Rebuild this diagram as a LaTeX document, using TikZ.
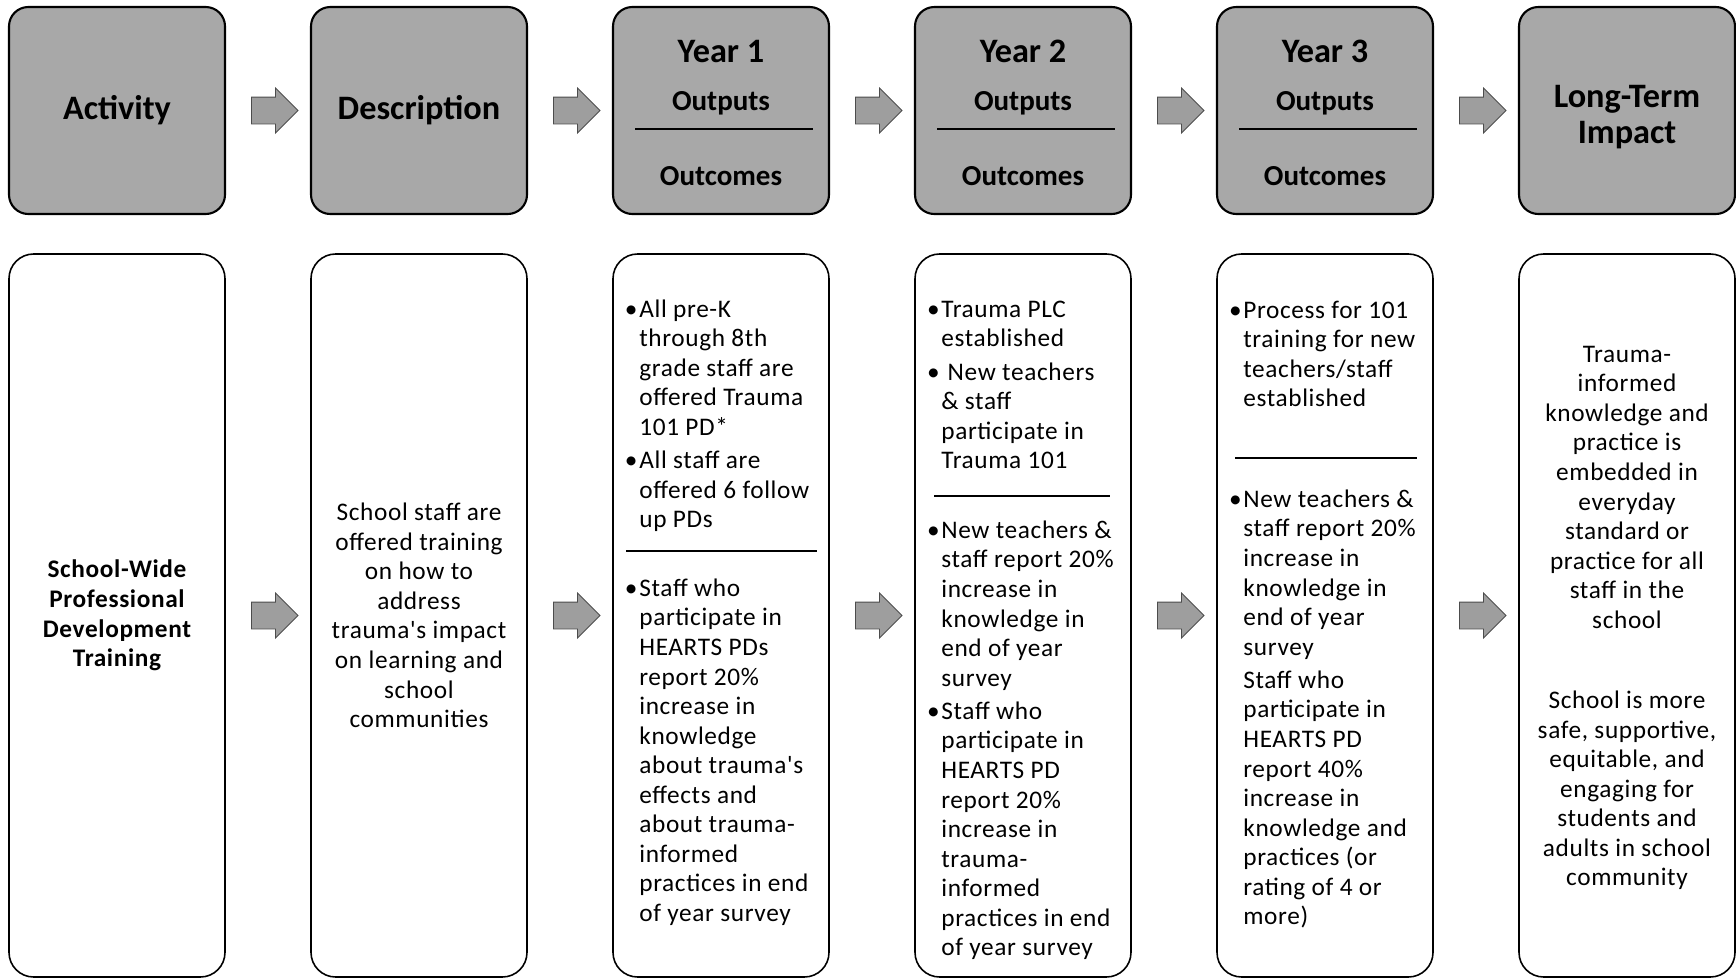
\documentclass[tikz,border=0pt]{standalone}
\usepackage{fontspec}
\setmainfont{Carlito}
\newfontfamily\bodyfont[LetterSpace=2.5]{Carlito}
\usepackage{xcolor}
\usetikzlibrary{shapes.arrows, positioning, calc}
\definecolor{headgray}{rgb}{0.66, 0.66, 0.66}
\definecolor{flowgray}{rgb}{0.62, 0.62, 0.62}
\tikzstyle{headbox} = [rectangle, rounded corners=11pt, draw=black, line width=1.2pt, fill=headgray, minimum width=4.32cm, minimum height=4.14cm, inner sep=0pt, outer sep=0pt]
\tikzstyle{bodybox} = [rectangle, rounded corners=14pt, draw=black, line width=0.9pt, fill=white, minimum width=4.32cm, minimum height=14.46cm, inner sep=0pt, outer sep=0pt]
\tikzstyle{headtext} = [font=\fontsize{19.5}{20.5}\selectfont\bfseries, align=center, inner sep=0pt]
\tikzstyle{subtext} = [font=\fontsize{16.5}{19}\selectfont\bfseries, inner sep=0pt]
\tikzstyle{bodytext} = [font=\bodyfont\fontsize{14.4}{16.8}\selectfont, align=left, anchor=north west, inner sep=0pt]
\tikzstyle{centertext} = [font=\bodyfont\fontsize{14.4}{16.8}\selectfont, align=center, inner sep=0pt]
\tikzstyle{flow} = [single arrow, draw=black!70, fill=flowgray, line width=0.5pt, minimum width=0.88cm, minimum height=0.93cm, single arrow head extend=0.18cm, inner sep=0pt, inner ysep=0.26cm]
\tikzstyle{divider} = [line width=0.8pt]

\begin{document}
\begin{tikzpicture}
\useasboundingbox (0,0) rectangle (34.72,-19.6);

% top row
\node[headbox, headtext] (acthead) at (2.34,-2.21) {Activity};
\node[headbox, headtext, right=1.72cm of acthead] (deschead) {Description};
\node[headbox, right=1.72cm of deschead] (y1head) {};
\node[headbox, right=1.72cm of y1head] (y2head) {};
\node[headbox, right=1.72cm of y2head] (y3head) {};
\node[headbox, right=1.72cm of y3head] (lthead) {};
\node[headtext] (lttitle) at ([yshift=-0.13cm]lthead.center) {Long-Term\\Impact};

\node[headtext] (y1title) at ([yshift=-0.88cm]y1head.north) {Year 1};
\node[subtext] (y1outputs) at ([yshift=-1.92cm]y1head.north) {Outputs};
\node[subtext] (y1outcomes) at ([yshift=-3.38cm]y1head.north) {Outcomes};
\draw[divider] ($(y1head.north west)+(0.44,-2.44)$) -- ($(y1head.north west)+(4.0,-2.44)$);

\node[headtext] (y2title) at ([yshift=-0.88cm]y2head.north) {Year 2};
\node[subtext] (y2outputs) at ([yshift=-1.92cm]y2head.north) {Outputs};
\node[subtext] (y2outcomes) at ([yshift=-3.38cm]y2head.north) {Outcomes};
\draw[divider] ($(y2head.north west)+(0.44,-2.44)$) -- ($(y2head.north west)+(4.0,-2.44)$);

\node[headtext] (y3title) at ([yshift=-0.88cm]y3head.north) {Year 3};
\node[subtext] (y3outputs) at ([yshift=-1.92cm]y3head.north) {Outputs};
\node[subtext] (y3outcomes) at ([yshift=-3.38cm]y3head.north) {Outcomes};
\draw[divider] ($(y3head.north west)+(0.44,-2.44)$) -- ($(y3head.north west)+(4.0,-2.44)$);

\node[flow] (hflow1) at ($(acthead.east)!0.5!(deschead.west)$) {};
\node[flow] (hflow2) at ($(deschead.east)!0.5!(y1head.west)$) {};
\node[flow] (hflow3) at ($(y1head.east)!0.5!(y2head.west)$) {};
\node[flow] (hflow4) at ($(y2head.east)!0.5!(y3head.west)$) {};
\node[flow] (hflow5) at ($(y3head.east)!0.5!(lthead.west)$) {};

% bottom row
\node[bodybox, below=0.8cm of acthead] (actbody) {};
\node[bodybox, below=0.8cm of deschead] (descbody) {};
\node[bodybox, below=0.8cm of y1head] (y1body) {};
\node[bodybox, below=0.8cm of y2head] (y2body) {};
\node[bodybox, below=0.8cm of y3head] (y3body) {};
\node[bodybox, below=0.8cm of lthead] (ltbody) {};

\node[centertext, font=\bodyfont\fontsize{14.4}{16.8}\selectfont\bfseries] (acttext) at (actbody) {School-Wide\\Professional\\Development\\Training};

\node[centertext] (desctext) at (descbody) {School staff are\\offered training\\on how to\\address\\trauma's impact\\on learning and\\school\\communities};

\node[bodytext] (y1out) at ($(y1body.north west)+(0.52,-0.91)$) {\llap{\textbullet\hspace{1pt}}All pre-K\\
through 8th\\
grade staff are\\
offered Trauma\\
101 PD*\\[2.2pt]
\llap{\textbullet\hspace{1pt}}All staff are\\
offered 6 follow\\
up PDs};
\draw[divider] ($(y1body.north west)+(0.26,-5.94)$) -- ($(y1body.north west)+(4.08,-5.94)$);
\node[bodytext] (y1res) at ($(y1body.north west)+(0.52,-6.49)$) {\llap{\textbullet\hspace{1pt}}Staff who\\
participate in\\
HEARTS PDs\\
report 20\%\\
increase in\\
knowledge\\
about trauma's\\
effects and\\
about trauma-\\
informed\\
practices in end\\
of year survey};

\node[bodytext] (y2out) at ($(y2body.north west)+(0.52,-0.93)$) {\llap{\textbullet\hspace{1pt}}Trauma PLC\\
established\\[2.2pt]
\llap{\textbullet\hspace{1pt}}\ New teachers\\
\& staff\\
participate in\\
Trauma 101};
\draw[divider] ($(y2body.north west)+(0.38,-4.84)$) -- ($(y2body.north west)+(3.9,-4.84)$);
\node[bodytext] (y2res) at ($(y2body.north west)+(0.52,-5.33)$) {\llap{\textbullet\hspace{1pt}}New teachers \&\\
staff report 20\%\\
increase in\\
knowledge in\\
end of year\\
survey\\[2.2pt]
\llap{\textbullet\hspace{1pt}}Staff who\\
participate in\\
HEARTS PD\\
report 20\%\\
increase in\\
trauma-\\
informed\\
practices in end\\
of year survey};

\node[bodytext] (y3out) at ($(y3body.north west)+(0.52,-0.93)$) {\llap{\textbullet\hspace{1pt}}Process for 101\\
training for new\\
teachers/staff\\
established};
\draw[divider] ($(y3body.north west)+(0.36,-4.08)$) -- ($(y3body.north west)+(4.0,-4.08)$);
\node[bodytext] (y3res) at ($(y3body.north west)+(0.52,-4.71)$) {\llap{\textbullet\hspace{1pt}}New teachers \&\\
staff report 20\%\\
increase in\\
knowledge in\\
end of year\\
survey\\[2.2pt]
Staff who\\
participate in\\
HEARTS PD\\
report 40\%\\
increase in\\
knowledge and\\
practices (or\\
rating of 4 or\\
more)};

\node[centertext] (lttext) at ([yshift=-0.05cm]ltbody.center) {Trauma-\\
informed\\
knowledge and\\
practice is\\
embedded in\\
everyday\\
standard or\\
practice for all\\
staff in the\\
school\\[29pt]
School is more\\
safe, supportive,\\
equitable, and\\
engaging for\\
students and\\
adults in school\\
community};

\node[flow] (bflow1) at ($(actbody.east)!0.5!(descbody.west)$) {};
\node[flow] (bflow2) at ($(descbody.east)!0.5!(y1body.west)$) {};
\node[flow] (bflow3) at ($(y1body.east)!0.5!(y2body.west)$) {};
\node[flow] (bflow4) at ($(y2body.east)!0.5!(y3body.west)$) {};
\node[flow] (bflow5) at ($(y3body.east)!0.5!(ltbody.west)$) {};
\end{tikzpicture}
\end{document}
